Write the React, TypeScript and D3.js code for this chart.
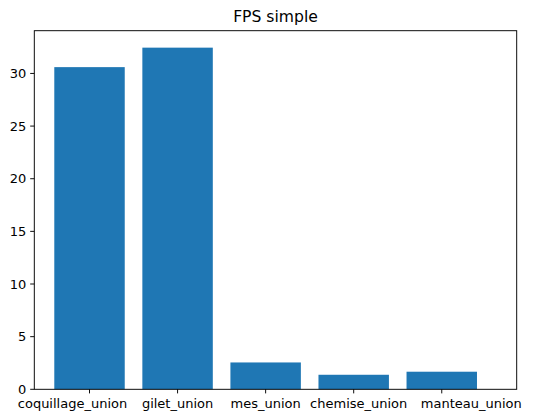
import React from "react";
import * as d3 from "d3";

const categories = ["coquillage_union", "gilet_union", "mes_union", "chemise_union", "manteau_union"];
const values = [30.6, 32.45, 2.55, 1.38, 1.67];
const yTicks = [0, 5, 10, 15, 20, 25, 30];
const title = "FPS simple";

const W = 542, H = 414;
const left = 34.3, right = 516.7, top = 30.7, bottom = 389.3;
// horizontal nudges (px) of the category labels, as in the reference
const labelShift = [-17, 0, 0, 5, 29.5];

export default function App() {
  const x = d3.scaleLinear().domain([-0.627, 4.851]).range([left, right]);
  const y = d3.scaleLinear().domain([0, 34.06]).range([bottom, top]);
  const bw = 0.8;
  const font = "'DejaVu Sans', sans-serif";
  return (
    <svg width={W} height={H} style={{ position: "fixed", left: 0, top: 0, background: "#fff" }}>
      <rect x={0} y={0} width={W} height={H} fill="#fff" />
      {values.map((v, i) => (
        <rect key={i} x={x(i - bw / 2)} y={y(v)} width={x(i + bw / 2) - x(i - bw / 2)} height={y(0) - y(v)} fill="#1f77b4" />
      ))}
      <rect x={left} y={top} width={right - left} height={bottom - top} fill="none" stroke="#000" strokeWidth={0.95} />
      {yTicks.map((t) => (
        <g key={t}>
          <line x1={left - 4.1} x2={left} y1={y(t)} y2={y(t)} stroke="#000" strokeWidth={0.95} />
          <text x={left - 8} y={y(t)} dy="0.36em" textAnchor="end" fontFamily={font} fontSize={13} fill="#000">{t}</text>
        </g>
      ))}
      {categories.map((c, i) => (
        <g key={c}>
          <line x1={x(i)} x2={x(i)} y1={bottom} y2={bottom + 4.1} stroke="#000" strokeWidth={0.95} />
          <text x={x(i) + labelShift[i]} y={408} textAnchor="middle" fontFamily={font} fontSize={13} fill="#000">{c}</text>
        </g>
      ))}
      <text x={(left + right) / 2} y={21.5} textAnchor="middle" fontFamily={font} fontSize={15.6} fill="#000">{title}</text>
    </svg>
  );
}
